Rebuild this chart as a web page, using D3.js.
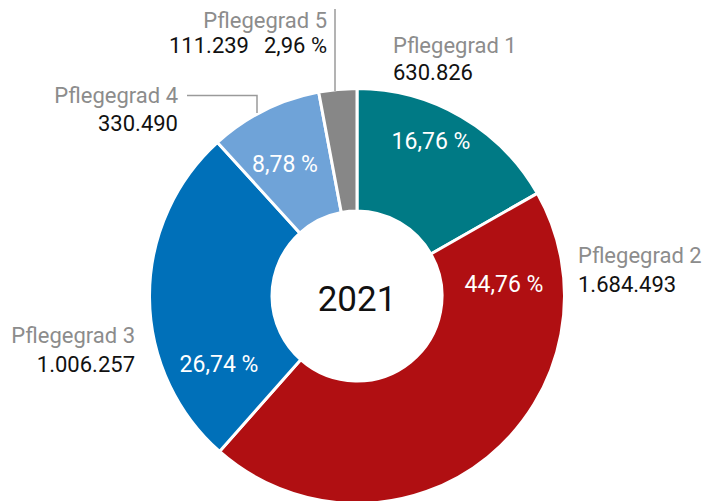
<!DOCTYPE html>
<html><head><meta charset="utf-8">
<script src="https://cdn.jsdelivr.net/npm/d3@7"></script>
<style>
html,body{margin:0;padding:0;background:#fff;}
svg{display:block;}
text{font-family:Roboto,"Noto Sans",sans-serif;}
</style></head>
<body>
<svg id="chart" width="705" height="501"></svg>
<script>
// Data
const categories = ["Pflegegrad 1","Pflegegrad 2","Pflegegrad 3","Pflegegrad 4","Pflegegrad 5"];
const values = [630826, 1684493, 1006257, 330490, 111239];
const valueLabels = ["630.826","1.684.493","1.006.257","330.490","111.239"];
const percentLabels = ["16,76 %","44,76 %","26,74 %","8,78 %","2,96 %"];
const centerLabel = "2021";

// Styles / layout
const colors = ["#007a85","#b00f12","#0070b9","#6fa3d8","#878787"];
const cx = 357, cy = 296, outerR = 207.5, innerR = 85;
// label layout (name/value block)
const labelLayout = [
  {x:393, y:53, anchor:"start"},
  {x:578, y:263, anchor:"start"},
  {x:135, y:343, anchor:"end"},
  {x:178, y:103, anchor:"end"},
  {x:327, y:28, anchor:"end"}
];
const valueLineGap = [27, 29, 29, 28, 25];
// percent label offsets relative to centre (null = shown next to value outside)
const pctOffsets = [[74,-147],[147,-4],[-138,76],[-72,-124],null];

const svg = d3.select("#chart");
const g = svg.append("g").attr("transform", `translate(${cx},${cy})`);

const pie = d3.pie().sort(null).value(d => d)(values);
const arc = d3.arc().innerRadius(innerR).outerRadius(outerR);

g.selectAll("path.slice").data(pie).join("path")
  .attr("class","slice")
  .attr("d", arc)
  .attr("fill", (d,i) => colors[i])
  .attr("stroke","#fff")
  .attr("stroke-width",3)
  .attr("stroke-linejoin","miter");

// percent labels inside
g.selectAll("text.pct").data(pie.filter((d,i)=>pctOffsets[i]))
  .join("text")
  .attr("class","pct")
  .attr("x", d => pctOffsets[d.index][0])
  .attr("y", d => pctOffsets[d.index][1])
  .attr("text-anchor","middle")
  .attr("fill","#fff")
  .attr("font-size",23)
  .text(d => percentLabels[d.index]);

// centre label
g.append("text")
  .attr("x",0).attr("y",15)
  .attr("text-anchor","middle")
  .attr("font-size",35)
  .attr("fill","#111")
  .text(centerLabel);

// category labels
categories.forEach((c,i) => {
  const L = labelLayout[i];
  svg.append("text")
    .attr("x",L.x).attr("y",L.y)
    .attr("text-anchor",L.anchor)
    .attr("font-size",22)
    .attr("fill","#8c8c8c")
    .text(c);
  const t = svg.append("text")
    .attr("x",L.x).attr("y",L.y + valueLineGap[i])
    .attr("text-anchor",L.anchor)
    .attr("font-size",22)
    .attr("fill","#111");
  t.append("tspan").text(valueLabels[i]);
  if (!pctOffsets[i]) {
    t.append("tspan").attr("dx",15).text(percentLabels[i]);
  }
});

// leader lines
const line = d3.line();
svg.append("path")
  .attr("d", line([[335,9],[335,91]]))
  .attr("fill","none").attr("stroke","#9a9a9a").attr("stroke-width",1.5);
svg.append("path")
  .attr("d", line([[187,95.5],[257,95.5],[257,113]]))
  .attr("fill","none").attr("stroke","#9a9a9a").attr("stroke-width",1.5);
</script>
</body></html>
